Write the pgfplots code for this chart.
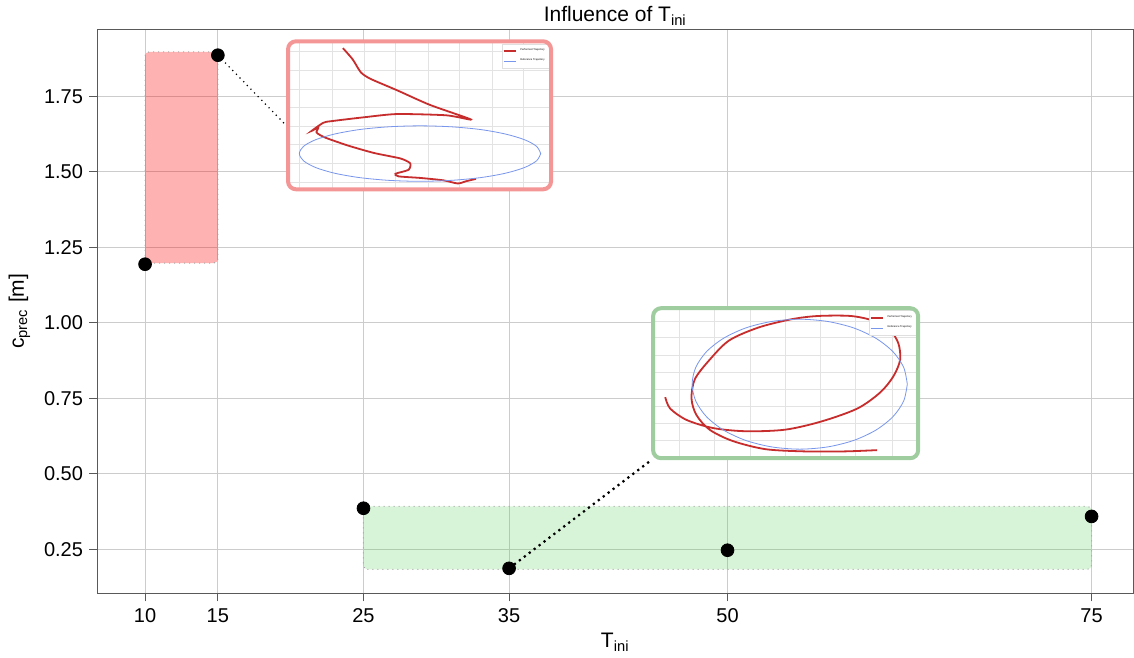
\documentclass[border=0pt]{standalone}
\usepackage{fontspec}
\setmainfont{Liberation Sans}
\usepackage{pgfplots}
\pgfplotsset{compat=1.18}
\definecolor{trajred}{RGB}{200,45,45}
\definecolor{refblue}{RGB}{120,150,235}
\definecolor{framered}{RGB}{245,150,150}
\definecolor{framegreen}{RGB}{160,205,160}
\definecolor{boxgreen}{RGB}{76,204,76}
\pgfplotsset{
  inset/.style={
    scale only axis, anchor=center,
    xmin=0, ymin=0, y dir=reverse,
    grid=major, grid style={gray!22, line width=0.3pt},
    xticklabels={}, yticklabels={}, major tick length=0pt,
    axis line style={draw=none},
    axis background/.style={fill=white},
    legend style={at={(0.995,0.985)}, anchor=north east,
      font=\fontsize{1.3}{1.5}\selectfont, draw=gray!25, line width=0.2pt,
      inner sep=0.4pt, row sep=-1.2pt, legend cell align=left},
    legend image post style={xscale=0.35},
  }
}
\begin{document}
\begin{tikzpicture}
\begin{axis}[
  name=main,
  x=7.28pt, y=151pt,
  xmin=6.7, xmax=77.88, ymin=0.104, ymax=1.972,
  xtick={10,15,25,35,50,75},
  ytick={0.25,0.5,0.75,1,1.25,1.5,1.75},
  yticklabel style={xshift=0.5pt, /pgf/number format/.cd, fixed, fixed zerofill, precision=2},
  /pgf/number format/assume math mode=true,
  grid=major, grid style={gray!40, line width=0.5pt},
  axis line style={gray!70!black, line width=0.5pt},
  tick style={gray!70!black, line width=0.5pt},
  tick align=outside, major tick length=4pt,
  xtick pos=bottom, ytick pos=left,
  tick label style={font=\fontsize{10}{12}\selectfont},
  label style={font=\fontsize{10.5}{12}\selectfont},
  title style={font=\fontsize{10.5}{12}\selectfont, yshift=-7.5pt},
  title={Influence of T\textsubscript{ini}},
  xlabel={T\textsubscript{ini}},
  ylabel={c\textsubscript{prec} [m]},
  xlabel style={yshift=1.5pt},
  clip=false,
]
\addplot[only marks, mark=*, mark size=3.2pt, black] coordinates {
  (10,1.194) (15,1.886) (25,0.386) (35,0.187) (50,0.247) (75,0.359)};
\addplot[fill=red, fill opacity=0.3, draw=gray!70, dotted, line width=0.5pt, rounded corners=2pt]
  coordinates {(10,1.198) (15,1.198) (15,1.897) (10,1.897)} -- cycle;
\addplot[fill=boxgreen, fill opacity=0.22, draw=gray!70, dotted, line width=0.5pt, rounded corners=2pt]
  coordinates {(25,0.184) (75,0.184) (75,0.392) (25,0.392)} -- cycle;
\addplot[black, dotted, line width=0.6pt] coordinates {(15,1.886) (19.68,1.654)};
\addplot[black, dotted, line width=1.1pt] coordinates {(35,0.187) (44.75,0.545)};
\coordinate (rc) at (axis cs:28.85,1.687);
\coordinate (gc) at (axis cs:53.99,0.800);
\end{axis}
\path ([xshift=-48.5pt]main.south west);

% red inset
\begin{axis}[inset, name=redin, at={(rc)}, width=131.5pt, height=74pt,
  xmax=267, ymax=152,
  xtick={11,45,77,109,142,174,207,239}, ytick={10,30,49,68,87,106,125,145}]
\addplot[trajred, line width=0.9pt, smooth, tension=0.4] coordinates {
 (55.7,7) (65.7,18.7) (74,32) (84,38.7) (110.7,50.3) (144,65.3) (185.7,80.3)
 (160.7,76) (110.7,74.7) (77.3,78) (44,82) (35.7,83.7) (24,92) (30.7,88.7)
 (29,93.7) (37.3,98.7) (60.7,107) (87.3,114.7) (114,120.3) (124,125.3)
 (122.3,132) (109,136) (112.3,138.7) (134,140.3) (157.3,142.7) (172.3,146)
 (180.7,143.7) (190.7,141.3)};
\addlegendentry{Performed Trajectory}
\addplot[refblue, line width=0.4pt, smooth] coordinates {
 (256.5,115.3) (252.3,122.7) (240.1,129.6) (220.6,135.5) (195.3,140.0)
 (165.7,142.8) (134,143.8) (102.3,142.8) (72.8,140.0) (47.4,135.5)
 (27.9,129.6) (15.7,122.7) (11.5,115.3) (15.7,107.9) (27.9,101.1)
 (47.4,95.2) (72.8,90.6) (102.3,87.8) (134,86.8) (165.7,87.8) (195.3,90.6)
 (220.6,95.2) (240.1,101.1) (252.3,107.9) (256.5,115.3)};
\addlegendentry{Reference Trajectory}
\end{axis}
\draw[framered, line width=2pt, rounded corners=4pt] (redin.south west) rectangle (redin.north east);

% green inset
\begin{axis}[inset, name=grin, at={(gc)}, width=132.5pt, height=75pt,
  xmax=269, ymax=154,
  xtick={26.7,62.3,99,134,170,205.7,242.3}, ytick={13,29.7,48,65.7,83,100.3,118,135.7}]
\addplot[trajred, line width=0.9pt, smooth, tension=0.5] coordinates {
 (12.3,91.3) (17.3,103) (34,114.7) (60.7,123) (94,126.3) (134,124.7)
 (170.7,116.3) (207.3,103) (230.7,86.3) (244,69.7) (250.7,53) (249,36.3)
 (240.7,23) (224,13) (200.7,8) (167.3,8) (140.7,11.3) (107.3,19.7) (77.3,33)
 (57.3,53) (42.3,73) (39,93) (44,109.7) (57.3,124.7) (80.7,136.3) (114,144.7)
 (154,147) (194,147) (227.3,145.7)};
\addlegendentry{Performed Trajectory}
\addplot[refblue, line width=0.4pt, smooth] coordinates {
 (258,78) (254.3,95.3) (243.4,111.4) (226,125.2) (203.4,135.8) (177.1,142.4)
 (148.8,144.7) (120.5,142.4) (94.2,135.8) (71.6,125.2) (54.2,111.4)
 (43.3,95.3) (39.6,78) (43.3,60.7) (54.2,44.6) (71.6,30.8) (94.2,20.2)
 (120.5,13.6) (148.8,11.3) (177.1,13.6) (203.4,20.2) (226,30.8)
 (243.4,44.6) (254.3,60.7) (258,78)};
\addlegendentry{Reference Trajectory}
\end{axis}
\draw[framegreen, line width=2pt, rounded corners=4pt] (grin.south west) rectangle (grin.north east);
\end{tikzpicture}
\end{document}
